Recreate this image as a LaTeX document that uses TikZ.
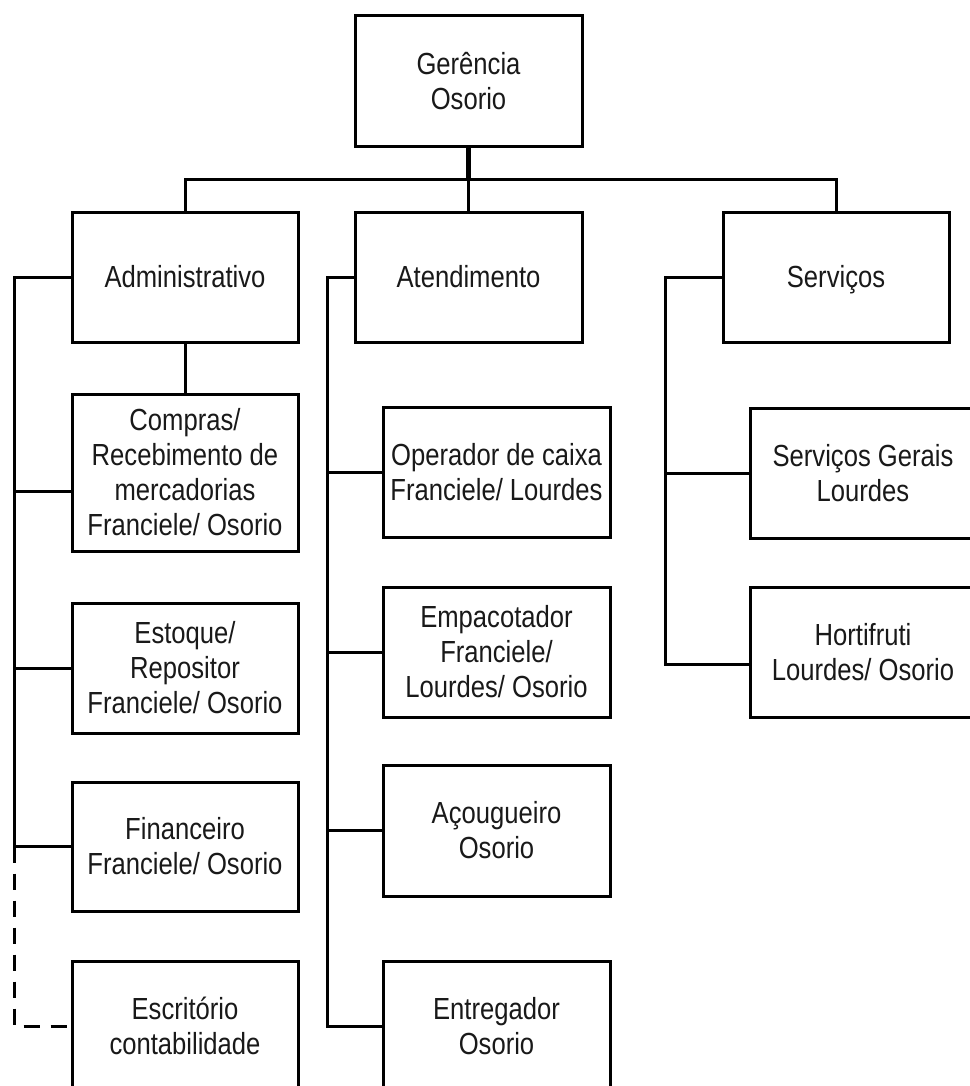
\documentclass[tikz,border=0pt]{standalone}
\usepackage{fontspec}
\setmainfont[FakeStretch=0.84]{Liberation Sans}
\begin{document}
\begin{tikzpicture}[x=1pt,y=-1pt,
  box/.style={draw=black, line width=3pt, minimum width=226pt, minimum height=130pt,
    align=center, inner sep=0pt, text=black!90,
    font=\fontsize{30.5}{35}\selectfont},
  conn/.style={draw=black, line width=3pt, line join=miter},
  rootconn/.style={draw=black, line width=5pt},
  dconn/.style={draw=black, line width=3pt, dash pattern=on 16pt off 11pt}]
\useasboundingbox[fill=white] (0,0) rectangle (969,1086);

% top levels
\node[box, minimum width=227pt, minimum height=131pt] (G) at (468.5,81.5) {Gerência\\Osorio};
\node[box] (Adm) at (185,277) {Administrativo};
\node[box, minimum width=227pt] (Ate) at (468.5,277) {Atendimento};
\node[box] (Ser) at (836,277) {Servi\smash{ç}os};

% Administrativo column
\node[box, minimum height=157pt] (Comp) at (185,472.5) {Compras/\\Recebimento de\\mercadorias\\Franciele/ Osorio};
\node[box] (Est) at (185,668) {Estoque/\\Repositor\\Franciele/ Osorio};
\node[box, minimum height=129pt] (Fin) at (185,846.5) {Financeiro\\Franciele/ Osorio};
\node[box] (Esc) at (185,1026) {Escritório\\contabilidade};

% Atendimento column
\node[box, minimum width=227pt] (Op) at (496.5,472) {Operador de caixa\\Franciele/ Lourdes};
\node[box, minimum width=227pt] (Emp) at (496.5,652) {Empacotador\\Franciele/\\Lourdes/ Osorio};
\node[box, minimum width=227pt, minimum height=131pt] (Aco) at (496.5,830.5) {Açougueiro\\Osorio};
\node[box, minimum width=227pt] (Ent) at (496.5,1026) {Entregador\\Osorio};

% Servicos column
\node[box] (SG) at (863,473) {Serviços Gerais\\Lourdes};
\node[box] (Hor) at (863,652) {Hortifruti\\Lourdes/ Osorio};

% top connectors
\coordinate (hL) at (185,180);
\coordinate (hR) at (836,180);
\draw[conn] (Adm.north) -- (hL) -- (hR) -- (Ser.north);
\draw[rootconn] (G.south) -- (G.south |- hL);
\draw[conn] (G.south |- hL) -- (Ate.north);

% Administrativo trunk
\coordinate (aT) at (14,277);
\coordinate (aComp) at (14,491);
\coordinate (aB) at (14,846.5);
\coordinate (aEsc) at (14,1026);
\draw[conn] (Adm.west) -- (aT) -- (aB) -- (Fin.west);
\draw[conn] (aComp) -- (aComp -| Comp.west);
\draw[conn] (aT |- Est.west) -- (Est.west);
\draw[conn] (Adm.south) -- (Comp.north);
\draw[dconn] (aB) -- (aEsc) -- (Esc.west);

% Atendimento trunk
\coordinate (tT) at (327,277);
\coordinate (tB) at (327,1026);
\draw[conn] (Ate.west) -- (tT) -- (tB) -- (Ent.west);
\draw[conn] (tT |- Op.west) -- (Op.west);
\draw[conn] (tT |- Emp.west) -- (Emp.west);
\draw[conn] (tT |- Aco.west) -- (Aco.west);

% Servicos trunk
\coordinate (sT) at (665,277);
\coordinate (sB) at (665,664);
\draw[conn] (Ser.west) -- (sT) -- (sB) -- (sB -| Hor.west);
\draw[conn] (sT |- SG.west) -- (SG.west);
\end{tikzpicture}
\end{document}
